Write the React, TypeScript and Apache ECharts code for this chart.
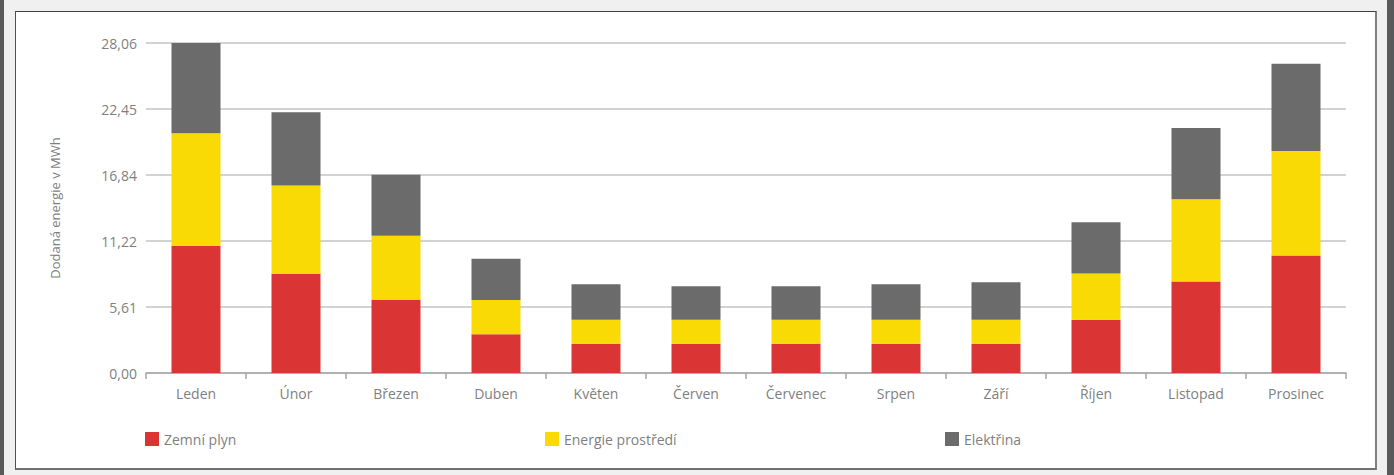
import React, { useEffect, useRef } from "react";
import * as echarts from "echarts";

const months = ["Leden", "Únor", "Březen", "Duben", "Květen", "Červen", "Červenec", "Srpen", "Září", "Říjen", "Listopad", "Prosinec"];
const zemniPlyn = [10.82, 8.43, 6.21, 3.3, 2.48, 2.48, 2.48, 2.48, 2.48, 4.53, 7.77, 9.99];
const energieProstredi = [9.56, 7.51, 5.46, 2.91, 2.05, 2.05, 2.05, 2.05, 2.05, 3.92, 7.0, 8.88];
const elektrina = [7.68, 6.24, 5.19, 3.5, 3.01, 2.84, 2.84, 3.01, 3.18, 4.36, 6.07, 7.43];
const yMax = 28.06;
const yInterval = 5.612;
const seriesNames = ["Zemní plyn", "Energie prostředí", "Elektřina"];
const seriesColors = ["#DA3434", "#FADA05", "#6B6B6C"];

const FONT = "Open Sans";
const TEXT = "#7f7f7f";

export default function App() {
  const ref = useRef<HTMLDivElement>(null);
  useEffect(() => {
    if (!ref.current) return;
    const chart = echarts.init(ref.current, undefined, { renderer: "svg" });
    const data = [zemniPlyn, energieProstredi, elektrina];
    const legendLefts = [140, 540, 940];
    chart.setOption({
      animation: false,
      backgroundColor: "transparent",
      textStyle: { fontFamily: FONT },
      grid: { left: 146, right: 48, top: 43, bottom: 102, containLabel: false },
      legend: seriesNames.map((n, i) => ({
        data: [n],
        left: legendLefts[i],
        top: 427,
        itemWidth: 14,
        itemHeight: 14,
        icon: "rect",
        textStyle: { color: TEXT, fontSize: 14, fontFamily: FONT },
        selectedMode: false,
      })),
      xAxis: {
        type: "category",
        data: months,
        axisLine: { lineStyle: { color: "#a6a6a6", width: 1.5 } },
        axisTick: { show: true, length: 6, lineStyle: { color: "#a6a6a6", width: 1.5 } },
        axisLabel: { color: TEXT, fontSize: 14, margin: 13, fontFamily: FONT },
      },
      yAxis: {
        type: "value",
        min: 0,
        max: yMax,
        interval: yInterval,
        name: "Dodaná energie v MWh",
        nameLocation: "middle",
        nameRotate: 90,
        nameGap: 85,
        nameTextStyle: { color: TEXT, fontSize: 13, fontFamily: FONT },
        axisLine: { show: false },
        axisTick: { show: false },
        axisLabel: {
          color: TEXT,
          fontSize: 14,
          margin: 9,
          fontFamily: FONT,
          formatter: (v: number) => v.toFixed(2).replace(".", ","),
        },
        splitLine: { lineStyle: { color: "#c3c3c3", width: 1.5 } },
      },
      series: seriesNames.map((n, i) => ({
        name: n,
        type: "bar",
        stack: "total",
        barWidth: 49,
        itemStyle: { color: seriesColors[i] },
        data: data[i],
      })),
    });
    return () => chart.dispose();
  }, []);

  return (
    <div style={{ position: "fixed", left: 0, top: 0, width: 1394, height: 475, background: "#f0f0f0", overflow: "hidden" }}>
      <div style={{ position: "absolute", left: 0, top: 0, width: 4, height: 475, background: "#58595b" }} />
      <div style={{ position: "absolute", left: 1387, top: 0, width: 7, height: 475, background: "#58595b" }} />
      <div
        style={{
          position: "absolute",
          left: 15,
          top: 11,
          width: 1362,
          height: 459,
          boxSizing: "border-box",
          background: "#ffffff",
          borderTop: "1.5px solid #404040",
          borderLeft: "1.5px solid #505050",
          borderRight: "2px solid #808080",
          borderBottom: "2px solid #707070",
        }}
      />
      <div ref={ref} style={{ position: "absolute", left: 0, top: 0, width: 1394, height: 475 }} />
    </div>
  );
}
